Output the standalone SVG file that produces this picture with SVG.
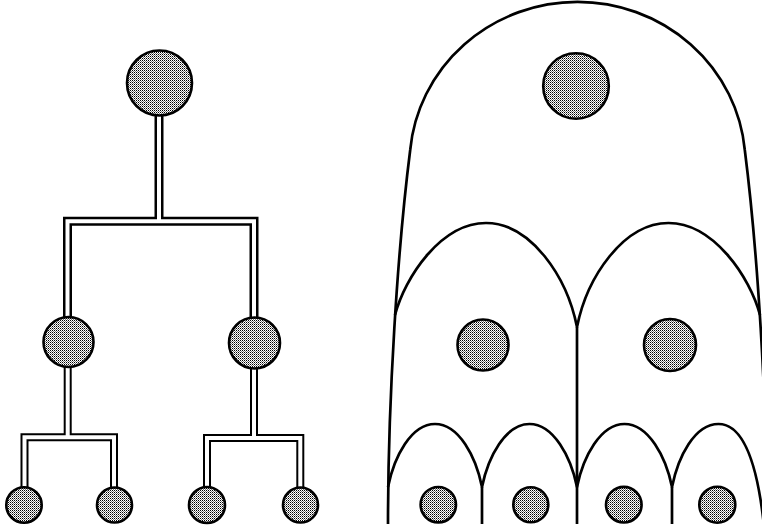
<svg xmlns="http://www.w3.org/2000/svg" width="762" height="526" viewBox="0 0 762 526">
<defs>
<pattern id="dots" width="2" height="2" patternUnits="userSpaceOnUse">
<rect width="2" height="2" fill="#ffffff"/>
<rect x="0" y="0" width="1" height="1" fill="#000000"/>
<rect x="1" y="1" width="1" height="1" fill="#777777"/>
</pattern>
</defs>
<style>
.node{fill:url(#dots);stroke:#000;stroke-width:2.6}
.pipeO{fill:none;stroke:#000;stroke-linejoin:miter;stroke-linecap:butt}
.pipeI{fill:none;stroke:#fff;stroke-linejoin:miter;stroke-linecap:butt;stroke-width:4}
.arch{fill:none;stroke:#000;stroke-width:2.7;stroke-linejoin:round}
</style>
<rect width="762" height="526" fill="#ffffff"/>
<g id="connectors">
<path class="pipeO" stroke-width="9" d="M159 112 V221.3 M67.5 322 V221.3 H254 V322"/>
<path class="pipeO" stroke-width="8" d="M67.7 362 V437.3 M24.5 490 V437.3 H114 V490"/>
<path class="pipeO" stroke-width="8" d="M254 363 V438 M207 490 V438 H300.3 V490"/>
<path class="pipeI" d="M159 112 V221.3 M67.5 322 V221.3 H254 V322"/>
<path class="pipeI" d="M67.7 362 V437.3 M24.5 490 V437.3 H114 V490"/>
<path class="pipeI" d="M254 363 V438 M207 490 V438 H300.3 V490"/>
</g>
<g id="root"><circle class="node" cx="159.5" cy="83" r="32.5"/></g>
<g id="l2-left"><circle class="node" cx="68.5" cy="342" r="25"/></g>
<g id="l2-right"><circle class="node" cx="254.5" cy="343" r="25.5"/></g>
<g id="leaf-1"><circle class="node" cx="24" cy="505" r="17.7"/></g>
<g id="leaf-2"><circle class="node" cx="114.5" cy="505" r="17.5"/></g>
<g id="leaf-3"><circle class="node" cx="207" cy="505" r="18"/></g>
<g id="leaf-4"><circle class="node" cx="300.5" cy="505" r="17.5"/></g>
<g id="regions">
<path class="arch" d="M388 524 C388 400 397.5 250 410.2 150 A168 163 0 0 1 744.8 150 C757.5 250 767 400 767 524"/>
<path class="arch" d="M395 315 C405 277 441 223 486 223 C531 223 567 277 577 327 C587 277 623.5 223 668.5 223 C713.5 223 750 277 760 315"/>
<path class="arch" d="M577 327 V524"/>
<path class="arch" d="M388 487 C394 457 411 424 435 424 C459 424 476 457 482 487 C488 457 505.5 424 529.5 424 C553.5 424 571 457 577 487 C583 457 600.5 424 624.5 424 C648.5 424 666 457 672 487 C678 457 694.5 424 718.5 424 C742 424 757 460 764 526"/>
<path class="arch" d="M482 487 V524 M672 487 V524"/>
</g>
<g id="r-top"><circle class="node" cx="576" cy="86" r="32.8"/></g>
<g id="r-mid-left"><circle class="node" cx="483" cy="345" r="25.5"/></g>
<g id="r-mid-right"><circle class="node" cx="670" cy="345" r="26"/></g>
<g id="r-leaf-1"><circle class="node" cx="438.3" cy="504.7" r="17.7"/></g>
<g id="r-leaf-2"><circle class="node" cx="530.8" cy="504.7" r="17.5"/></g>
<g id="r-leaf-3"><circle class="node" cx="623.8" cy="504.7" r="17.8"/></g>
<g id="r-leaf-4"><circle class="node" cx="717.3" cy="504.7" r="18"/></g>
</svg>
